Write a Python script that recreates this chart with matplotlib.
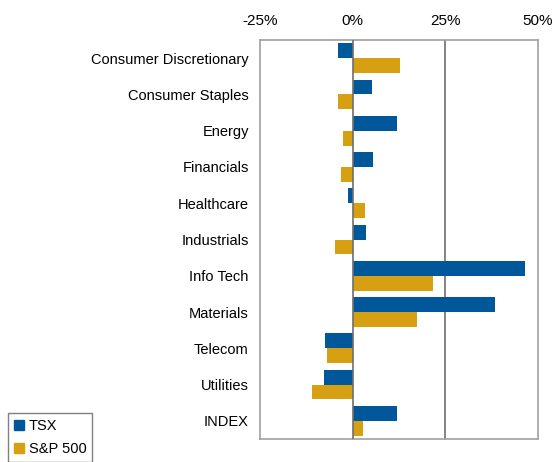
import matplotlib
matplotlib.use("Agg")
import matplotlib.pyplot as plt
import numpy as np
from matplotlib.patches import Patch

plt.rcParams["font.family"] = ["Liberation Sans", "DejaVu Sans"]
plt.rcParams["font.size"] = 10.5

sectors = ["Consumer Discretionary", "Consumer Staples", "Energy", "Financials",
           "Healthcare", "Industrials", "Info Tech", "Materials", "Telecom",
           "Utilities", "INDEX"]
tsx = [-4.0, 5.2, 12.0, 5.5, -1.3, 3.6, 46.6, 38.5, -7.5, -7.7, 12.0]
sp500 = [12.8, -4.0, -2.6, -3.2, 3.3, -4.8, 21.7, 17.4, -7.0, -11.0, 2.8]
xticks = [-25, 0, 25, 50]
xticklabels = ["-25%", "0%", "25%", "50%"]

blue = "#00579A"
gold = "#D6A012"

fig = plt.figure(figsize=(5.56, 4.62), dpi=100)
ax = fig.add_axes([0.4676, 0.0498, 0.5, 0.8636])

y = np.arange(len(sectors))
h = 0.41
ax.barh(y - h / 2, tsx, height=h, color=blue, zorder=3)
ax.barh(y + h / 2, sp500, height=h, color=gold, zorder=3)

ax.set_xlim(-25, 50)
ax.set_ylim(len(sectors) - 0.5, -0.5)
ax.set_yticks(y)
ax.set_yticklabels(sectors)
ax.set_xticks(xticks)
ax.set_xticklabels(xticklabels, fontsize=11)
ax.xaxis.tick_top()
ax.tick_params(axis="both", length=0)
ax.tick_params(axis="x", pad=9)
ax.tick_params(axis="y", pad=8)

for v in [0, 25]:
    ax.axvline(v, color="#6e6e6e", lw=1.2, zorder=4 if v == 0 else 2)
for s in ax.spines.values():
    s.set_color("#a0a0a0")
    s.set_linewidth(1.2)

handles = [Patch(color=blue, label="TSX"), Patch(color=gold, label="S&P 500")]
fig.legend(handles=handles, loc="lower left", bbox_to_anchor=(0.002, -0.015),
           frameon=True, fancybox=False, edgecolor="#606060",
           handlelength=0.7, handleheight=0.7, handletextpad=0.3,
           borderpad=0.4, labelspacing=0.6, fontsize=10.5)

fig.savefig("out.png", dpi=100)
